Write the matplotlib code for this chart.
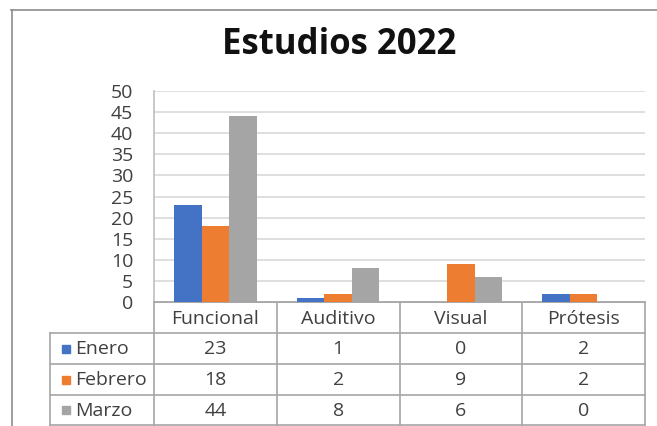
import numpy as np
import matplotlib
matplotlib.use("Agg")
import matplotlib.pyplot as plt


# Data
categories = ["Funcional", "Auditivo", "Visual", "Prótesis"]
series_names = ["Enero", "Febrero", "Marzo"]
enero = [23, 1, 0, 2]
febrero = [18, 2, 9, 2]
marzo = [44, 8, 6, 0]
colors = ["#4472C4", "#ED7D31", "#A5A5A5"]

W, H = 657, 426
plt.rcParams['font.family'] = ['Open Sans', 'DejaVu Sans']
text_color = "#404040"
fs = 14

fig = plt.figure(figsize=(W / 100, H / 100), dpi=100)

# overlay in pixel coords for frame + data table
ov = fig.add_axes([0, 0, 1, 1])
ov.set_xlim(0, W)
ov.set_ylim(H, 0)
ov.axis("off")

# chart frame (top + left edges visible)
ov.plot([11, W], [9.5, 9.5], color="#8c8c8c", lw=1.2)
ov.plot([11.5, 11.5], [9.5, H], color="#8c8c8c", lw=1.2)

# plot area
px_left, px_right, px_top, px_bottom = 154, 645, 91, 302
ax = fig.add_axes([px_left / W, (H - px_bottom) / H,
                   (px_right - px_left) / W, (px_bottom - px_top) / H])

x = np.arange(len(categories))
bw = 0.224
all_series = [enero, febrero, marzo]
for k, (vals, c) in enumerate(zip(all_series, colors)):
    ax.bar(x + (k - 1) * bw, vals, width=bw, color=c, zorder=3)

ax.set_xlim(-0.5, len(categories) - 0.5)
ax.set_ylim(0, 50)
ax.set_yticks(range(0, 51, 5))
ax.set_xticks([])
ax.tick_params(axis="y", length=0, pad=15, labelsize=fs, labelcolor=text_color)
ax.grid(axis="y", color="#d9d9d9", lw=1.2, zorder=0)
for s in ["top", "right"]:
    ax.spines[s].set_visible(False)
ax.spines["left"].set_color("#bfbfbf")
ax.spines["bottom"].set_color("#a6a6a6")
ax.spines["left"].set_linewidth(1.2)
ax.spines["bottom"].set_linewidth(1.2)

# title
fig.text(339 / W, 1 - 45 / H, "Estudios 2022", ha="center", va="center",
         fontsize=25, fontweight="bold", color="#111111")

# data table
line_c = "#a6a6a6"
col_w = (px_right - px_left) / len(categories)
col_x = [px_left + i * col_w for i in range(len(categories) + 1)]
row_y = [302, 333, 364, 394.5, 425]
leg_left = 50

# horizontal lines
ov.plot([px_left, px_right], [row_y[0], row_y[0]], color=line_c, lw=1.2)
for yy in row_y[1:]:
    ov.plot([leg_left, px_right], [yy, yy], color=line_c, lw=1.2)
# vertical lines
for xx in col_x:
    ov.plot([xx, xx], [row_y[0], row_y[-1]], color=line_c, lw=1.2)
ov.plot([leg_left, leg_left], [row_y[1], row_y[-1]], color=line_c, lw=1.2)

# header
for i, cat in enumerate(categories):
    ov.text((col_x[i] + col_x[i + 1]) / 2, (row_y[0] + row_y[1]) / 2 + 1, cat,
            ha="center", va="center", fontsize=fs, color=text_color)

# rows
for r, (name, vals, c) in enumerate(zip(series_names, all_series, colors)):
    yc = (row_y[r + 1] + row_y[r + 2]) / 2 + 1
    ov.add_patch(plt.Rectangle((61.5, yc - 4.5), 8, 8, color=c))
    ov.text(75, yc, name, ha="left", va="center", fontsize=fs, color=text_color)
    for i, v in enumerate(vals):
        ov.text((col_x[i] + col_x[i + 1]) / 2, yc, str(v),
                ha="center", va="center", fontsize=fs, color=text_color)

fig.savefig("out.png", dpi=100)
